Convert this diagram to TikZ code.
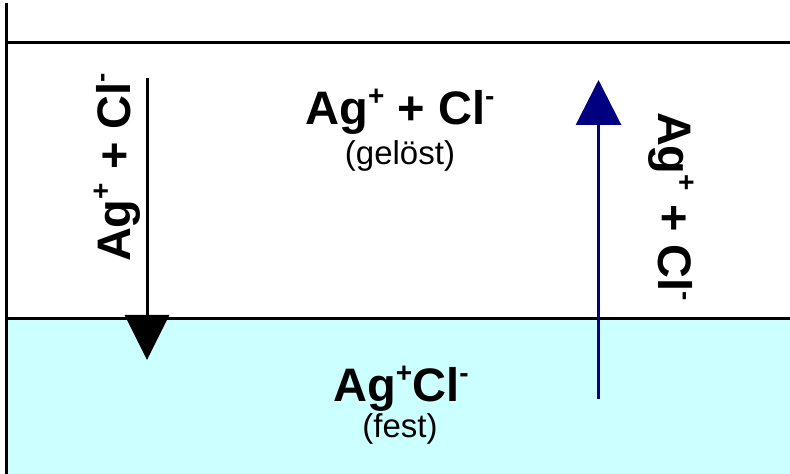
\documentclass[tikz,border=0pt]{standalone}
\usepackage{fontspec}
\setmainfont{Liberation Sans}
\usepackage{graphicx}
\usetikzlibrary{arrows.meta}
\definecolor{solidcyan}{HTML}{CCFFFF}
\definecolor{arrowblue}{HTML}{000080}
\newcommand{\sps}[1]{\raisebox{0.42em}{\fontsize{28}{28}\selectfont #1}}
\newcommand{\ionpair}{\textbf{Ag\sps{+} + Cl\sps{-}}}
\begin{document}
\begin{tikzpicture}[x=1pt,y=1pt,
  frame/.style={line width=3pt},
  flow/.style={line width=3pt,-{Triangle[length=45pt,width=44pt]}},
  big/.style={inner sep=0pt,font=\fontsize{47}{50}\selectfont},
  small/.style={inner sep=0pt,font=\fontsize{33}{36}\selectfont}]
\useasboundingbox (0,0) rectangle (790,474);
\fill[solidcyan] (8,0) rectangle (790,155);
\coordinate (tl) at (6.5,471);
\coordinate (bl) at (6.5,0);
\coordinate (t1) at (6.5,431.5);
\coordinate (t2) at (790,431.5);
\coordinate (m1) at (6.5,155.5);
\coordinate (m2) at (790,155.5);
\draw[frame] (tl) -- (bl);
\draw[frame] (t1) -- (t2);
\draw[frame] (m1) -- (m2);
% arrows
\coordinate (dstart) at (147,396);
\coordinate (dend) at (147,114);
\draw[flow,black] (dstart) -- (dend);
\coordinate (ustart) at (598.5,75);
\coordinate (uend) at (598.5,394);
\draw[flow,arrowblue,-{Triangle[length=45pt,width=45pt]}] (ustart) -- (uend);
% texts
\node[big,anchor=base] (dis) at (400,349) {\ionpair};
\node[small,anchor=base] (gel) at (400,309) {(gelöst)};
\node[big,anchor=base] (sol) at (401,72) {\textbf{Ag\sps{+}Cl\sps{-}}};
\node[small,anchor=base] (fest) at (400,36) {(fest)};
\node[big,rotate=90,anchor=base] (lt) at (130,306.5) {\ionpair};
\node[big,rotate=-90,anchor=base] (rt) at (658,267.5) {\ionpair};
\end{tikzpicture}
\end{document}
